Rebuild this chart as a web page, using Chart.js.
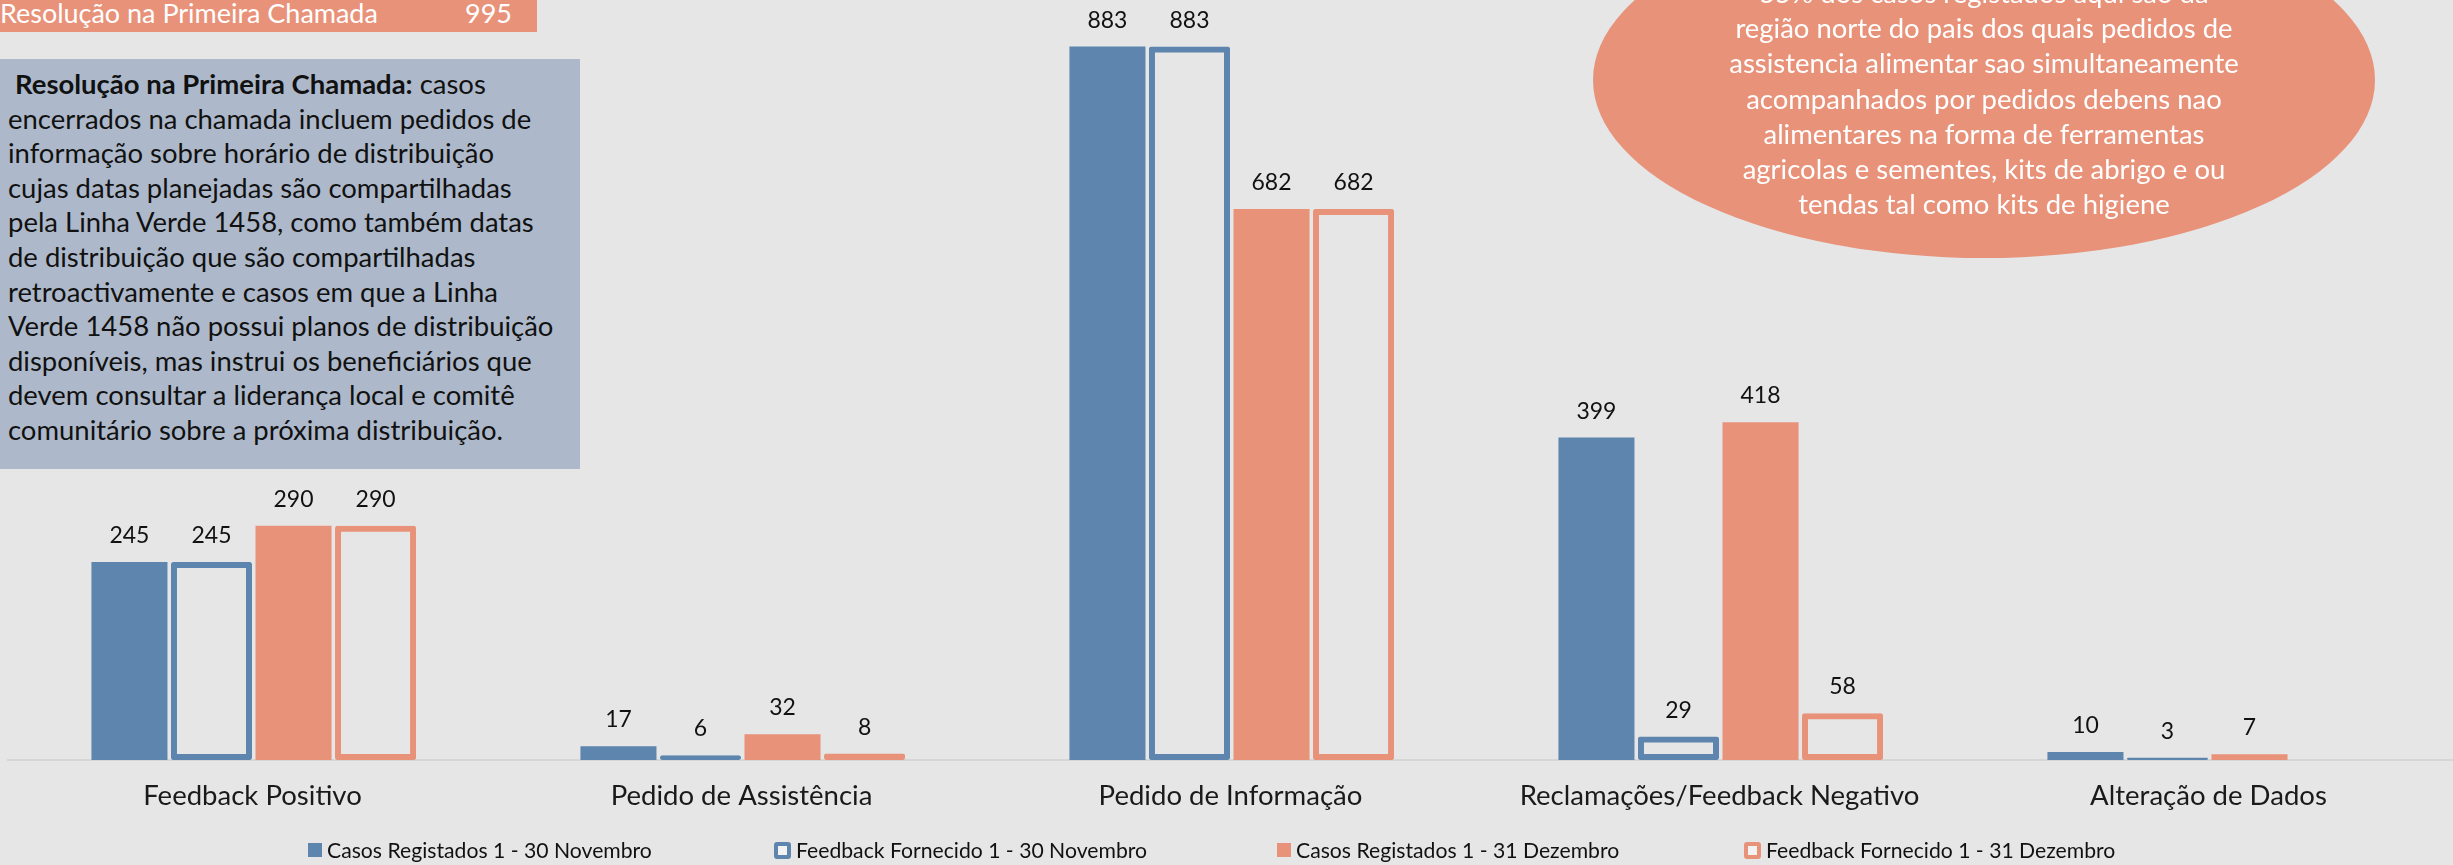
<!DOCTYPE html>
<html lang="pt">
<head>
<meta charset="utf-8">
<script src="https://cdn.jsdelivr.net/npm/chart.js@4.4.1/dist/chart.umd.min.js"></script>
<style>
  html, body { margin: 0; padding: 0; }
  body {
    width: 2453px; height: 865px; overflow: hidden; position: relative;
    background: #E6E6E6; font-family: Lato, sans-serif;
  }
  #chartWrap { position: absolute; left: 0; top: -48px; width: 2453px; height: 913px; }
  .banner {
    position: absolute; left: 0; top: 0; width: 537px; height: 32px;
    background: #E8927A; color: #fff; white-space: nowrap; overflow: hidden;
  }
  .banner span { position: absolute; bottom: 3px; }
  .note {
    position: absolute; left: 0; top: 59px; width: 580px; height: 410px;
    background: #ADB9CA; color: #111; box-sizing: border-box;
    padding: 8px 0 0 8px; line-height: 34.6px; white-space: nowrap;
  }
  .bubble {
    position: absolute; left: 1593px; top: -98px; width: 782px; height: 356px;
    border-radius: 50%; background: #E8927A;
  }
  .bubble-text {
    position: absolute; left: 1684px; top: -25px; width: 600px;
    color: #fff; text-align: center; line-height: 35.2px; white-space: nowrap;
  }
  .legend-item { position: absolute; top: 835px; height: 30px; display: flex; align-items: center; white-space: nowrap; color: #111; }
  .legend-item i { display: inline-block; box-sizing: border-box; margin-right: 5px; }
</style>
</head>
<body>
<div id="chartWrap"><canvas id="feedbackChart"></canvas></div>

<div class="banner" id="banner"><span style="left:0">Resolução na Primeira Chamada</span><span style="left:465px">995</span></div>

<div class="note" id="note">
&nbsp;<b>Resolução na Primeira Chamada:</b> casos<br>
encerrados na chamada incluem pedidos de<br>
informação sobre horário de distribuição<br>
cujas datas planejadas são compartilhadas<br>
pela Linha Verde 1458, como também datas<br>
de distribuição que são compartilhadas<br>
retroactivamente e casos em que a Linha<br>
Verde 1458 não possui planos de distribuição<br>
disponíveis, mas instrui os beneficiários que<br>
devem consultar a liderança local e comitê<br>
comunitário sobre a próxima distribuição.
</div>

<div class="bubble"></div>
<div class="bubble-text" id="bubbleText">
55% dos casos registados aqui sao da<br>
região norte do pais dos quais pedidos de<br>
assistencia alimentar sao simultaneamente<br>
acompanhados por pedidos debens nao<br>
alimentares na forma de ferramentas<br>
agricolas e sementes, kits de abrigo e ou<br>
tendas tal como kits de higiene
</div>

<div id="legend"></div>

<script>
// categories and series
const categories = ['Feedback Positivo', 'Pedido de Assistência', 'Pedido de Informação', 'Reclamações/Feedback Negativo', 'Alteração de Dados'];
const casosNovembro = [245, 17, 883, 399, 10];
const feedbackNovembro = [245, 6, 883, 29, 3];
const casosDezembro = [290, 32, 682, 418, 7];
const feedbackDezembro = [290, 8, 682, 58, null];
const seriesNames = ['Casos Registados 1 - 30 Novembro', 'Feedback Fornecido 1 - 30 Novembro', 'Casos Registados 1 - 31 Dezembro', 'Feedback Fornecido 1 - 31 Dezembro'];

const BLUE = '#5E85AD';
const SALMON = '#E8927A';
const FONT = 'Lato';

// pick font sizes so text widths match the original (Calibri) widths
const measureCtx = document.createElement('canvas').getContext('2d');
function fitSize(text, weight, width) {
    measureCtx.font = `${weight} 100px ${FONT}`;
    return 100 * width / measureCtx.measureText(text).width;
}

const noteSize = fitSize('disponíveis, mas instrui os beneficiários que', 'normal', 524);
const bubbleSize = fitSize('assistencia alimentar sao simultaneamente', 'normal', 510);
const bannerSize = fitSize('Resolução na Primeira Chamada', 'normal', 378);
const valueSize = fitSize('245', 'normal', 40);
const tickSize = fitSize('Reclamações/Feedback Negativo', 'normal', 400);
const legendSize = fitSize('Casos Registados 1 - 30 Novembro', 'normal', 325);

document.getElementById('note').style.fontSize = noteSize + 'px';
document.getElementById('bubbleText').style.fontSize = bubbleSize + 'px';
document.getElementById('banner').style.fontSize = bannerSize + 'px';

// value labels above every bar
const valueLabels = {
    id: 'valueLabels',
    afterDatasetsDraw(chart) {
        const ctx = chart.ctx;
        ctx.save();
        ctx.font = `${valueSize}px ${FONT}`;
        ctx.fillStyle = '#111';
        ctx.textAlign = 'center';
        ctx.textBaseline = 'alphabetic';
        chart.data.datasets.forEach((ds, i) => {
            chart.getDatasetMeta(i).data.forEach((bar, j) => {
                const v = ds.data[j];
                if (v === null || v === undefined) return;
                ctx.fillText(v, bar.x, bar.y - 19);
            });
        });
        ctx.restore();
    }
};

const solid = (label, data, color) => ({
    label, data,
    backgroundColor: color,
    borderWidth: 0,
    barPercentage: 0.927
});
const outline = (label, data, color) => ({
    label, data,
    backgroundColor: 'rgba(0,0,0,0)',
    borderColor: color,
    borderWidth: 6,
    borderRadius: 2,
    borderSkipped: false,
    barPercentage: 0.988
});

const chart = new Chart(document.getElementById('feedbackChart').getContext('2d'), {
    type: 'bar',
    data: {
        labels: categories,
        datasets: [
            solid(seriesNames[0], casosNovembro, BLUE),
            outline(seriesNames[1], feedbackNovembro, BLUE),
            solid(seriesNames[2], casosDezembro, SALMON),
            outline(seriesNames[3], feedbackDezembro, SALMON)
        ]
    },
    options: {
        responsive: true,
        maintainAspectRatio: false,
        animation: false,
        layout: { padding: { left: 8, right: 0, top: 0, bottom: 0 } },
        datasets: { bar: { categoryPercentage: 0.671 } },
        plugins: {
            legend: { display: false },
            tooltip: { enabled: false }
        },
        scales: {
            x: {
                grid: { display: false, drawTicks: false },
                border: { display: true, color: '#D6D6D6', width: 2 },
                ticks: {
                    color: '#1a1a1a',
                    padding: 20,
                    font: { family: FONT, size: tickSize }
                },
                afterFit(scale) { scale.height = 105; }
            },
            y: {
                display: false,
                min: 0,
                max: 1000
            }
        }
    },
    plugins: [valueLabels]
});

// legend, built from the datasets
const legendLeft = [308, 774, 1277, 1744];
const legendEl = document.getElementById('legend');
chart.data.datasets.forEach((ds, i) => {
    const item = document.createElement('div');
    item.className = 'legend-item';
    item.style.left = legendLeft[i] + 'px';
    item.style.fontSize = legendSize + 'px';
    const box = document.createElement('i');
    if (ds.borderWidth) {
        box.style.width = '17px';
        box.style.height = '17px';
        box.style.border = `4px solid ${ds.borderColor}`;
        box.style.borderRadius = '3px';
        box.style.background = '#F2F2F2';
    } else {
        box.style.width = '14px';
        box.style.height = '14px';
        box.style.background = ds.backgroundColor;
    }
    item.appendChild(box);
    item.appendChild(document.createTextNode(ds.label));
    legendEl.appendChild(item);
});
</script>
</body>
</html>
